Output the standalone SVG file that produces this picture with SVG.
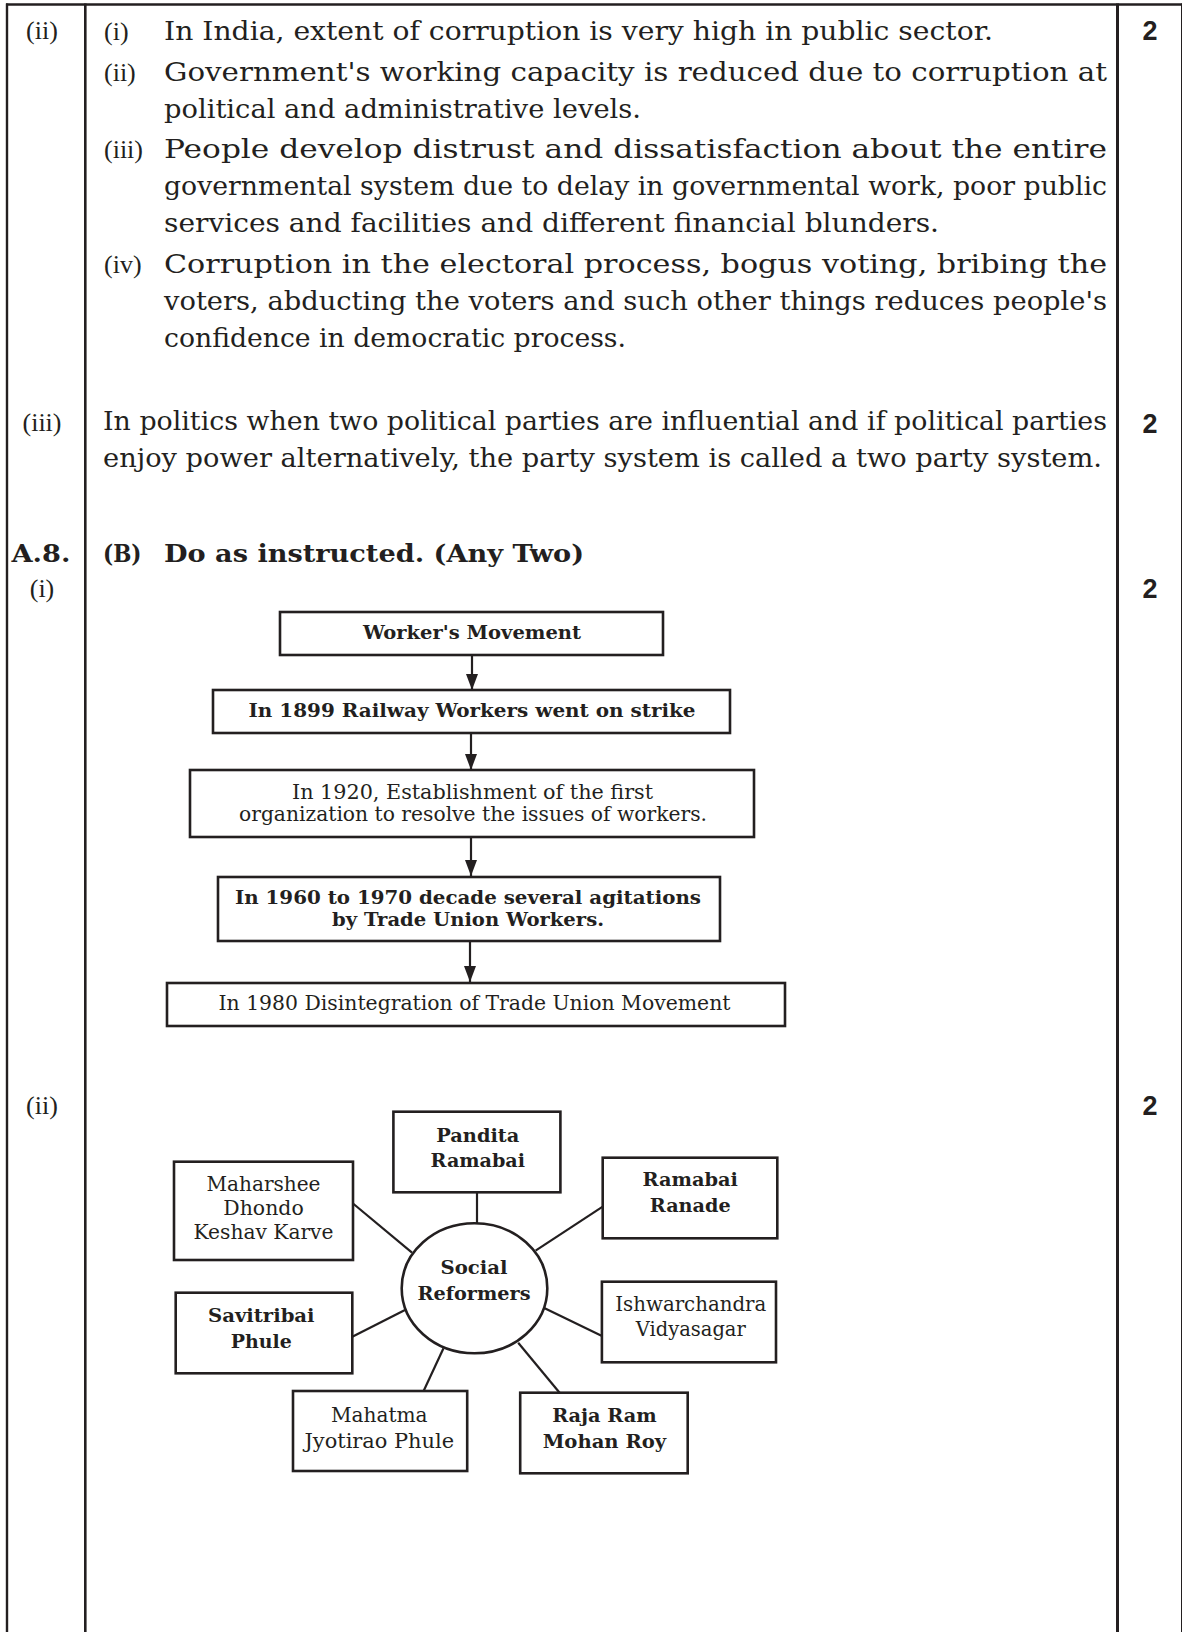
<svg xmlns="http://www.w3.org/2000/svg" width="1182" height="1632" viewBox="0 0 1182 1632">
<style>
.body{font-family:"DejaVu Serif","Liberation Serif",serif;font-size:26px;fill:#231f20}
.lbl{font-family:"Liberation Serif","DejaVu Serif",serif;font-size:26px;fill:#231f20}
.hb{font-family:"DejaVu Serif","Liberation Serif",serif;font-size:24px;font-weight:bold;fill:#231f20}
.mark{font-family:"Liberation Sans","DejaVu Sans",sans-serif;font-size:27px;font-weight:bold;fill:#231f20;text-anchor:middle}
.fb{font-family:"DejaVu Serif","Liberation Serif",serif;font-size:18.5px;font-weight:bold;fill:#231f20;text-anchor:middle}
.fr{font-family:"DejaVu Serif","Liberation Serif",serif;font-size:19.5px;fill:#231f20;text-anchor:middle}
.mb{font-family:"DejaVu Serif","Liberation Serif",serif;font-size:19px;font-weight:bold;fill:#231f20;text-anchor:middle}
.mr{font-family:"DejaVu Serif","Liberation Serif",serif;font-size:20px;fill:#231f20;text-anchor:middle}
.box{fill:#fff;stroke:#231f20;stroke-width:2.6}
.rule{stroke:#231f20;fill:none}
.conn{stroke:#231f20;stroke-width:2.2;fill:none}
</style>
<defs>
<marker id="ah" viewBox="0 0 16 12" refX="16" refY="6" markerWidth="16" markerHeight="12" markerUnits="userSpaceOnUse" orient="auto">
<path d="M0,0 L16,6 L0,12 Z" fill="#231f20"/>
</marker>
</defs>
<rect x="0" y="0" width="1182" height="1632" fill="#fff"/>

<g id="table">
<line class="rule" x1="6" y1="4.5" x2="1182" y2="4.5" stroke-width="2.6"/>
<line class="rule" x1="7" y1="3.5" x2="7" y2="1632" stroke-width="2.4"/>
<line class="rule" x1="85.3" y1="3.5" x2="85.3" y2="1632" stroke-width="2.6"/>
<line class="rule" x1="1117.5" y1="3.5" x2="1117.5" y2="1632" stroke-width="3"/>
<line class="rule" x1="1181.5" y1="3.5" x2="1181.5" y2="1632" stroke-width="1" stroke="#777"/>
</g>

<g id="left-labels">
<text class="lbl" x="42" y="39" text-anchor="middle">(ii)</text>
<text class="lbl" x="42" y="431" text-anchor="middle">(iii)</text>
<text class="hb" x="41" y="562" text-anchor="middle" textLength="59" lengthAdjust="spacingAndGlyphs">A.8.</text>
<text class="lbl" x="42" y="597" text-anchor="middle">(i)</text>
<text class="lbl" x="42" y="1114" text-anchor="middle">(ii)</text>
</g>

<g id="marks">
<text class="mark" x="1150" y="40">2</text>
<text class="mark" x="1150" y="433">2</text>
<text class="mark" x="1150" y="598">2</text>
<text class="mark" x="1150" y="1115">2</text>
</g>

<g id="answer-ii">
<text class="lbl" x="104" y="40">(i)</text>
<text class="body" x="164" y="40" textLength="829" lengthAdjust="spacingAndGlyphs">In India, extent of corruption is very high in public sector.</text>
<text class="lbl" x="104" y="80.5">(ii)</text>
<text class="body" x="164" y="80.5" textLength="943" lengthAdjust="spacingAndGlyphs">Government's working capacity is reduced due to corruption at</text>
<text class="body" x="164" y="117.5" textLength="477" lengthAdjust="spacingAndGlyphs">political and administrative levels.</text>
<text class="lbl" x="104" y="158">(iii)</text>
<text class="body" x="164" y="158" textLength="943" lengthAdjust="spacingAndGlyphs">People develop distrust and dissatisfaction about the entire</text>
<text class="body" x="164" y="195" textLength="943" lengthAdjust="spacingAndGlyphs">governmental system due to delay in governmental work, poor public</text>
<text class="body" x="164" y="232" textLength="775" lengthAdjust="spacingAndGlyphs">services and facilities and different financial blunders.</text>
<text class="lbl" x="104" y="272.5">(iv)</text>
<text class="body" x="164" y="272.5" textLength="943" lengthAdjust="spacingAndGlyphs">Corruption in the electoral process, bogus voting, bribing the</text>
<text class="body" x="164" y="309.5" textLength="943" lengthAdjust="spacingAndGlyphs">voters, abducting the voters and such other things reduces people's</text>
<text class="body" x="164" y="346.5" textLength="462" lengthAdjust="spacingAndGlyphs">confidence in democratic process.</text>
</g>

<g id="answer-iii">
<text class="body" x="103" y="430" textLength="1004" lengthAdjust="spacingAndGlyphs">In politics when two political parties are influential and if political parties</text>
<text class="body" x="103" y="466.5" textLength="999" lengthAdjust="spacingAndGlyphs">enjoy power alternatively, the party system is called a two party system.</text>
</g>

<g id="heading">
<text class="hb" x="103" y="562" textLength="38.5" lengthAdjust="spacingAndGlyphs">(B)</text>
<text class="hb" x="164" y="562" textLength="420" lengthAdjust="spacingAndGlyphs">Do as instructed. (Any Two)</text>
</g>

<g id="flow-connectors">
<line class="conn" x1="472" y1="655" x2="472" y2="690" marker-end="url(#ah)"/>
<line class="conn" x1="471" y1="733" x2="471" y2="770" marker-end="url(#ah)"/>
<line class="conn" x1="471" y1="838" x2="471" y2="876" marker-end="url(#ah)"/>
<line class="conn" x1="470" y1="942" x2="470" y2="982" marker-end="url(#ah)"/>
</g>

<g id="f1">
<rect class="box" x="280" y="612" width="383" height="43"/>
<text class="fb" x="472" y="638.5" textLength="218" lengthAdjust="spacingAndGlyphs">Worker's Movement</text>
</g>
<g id="f2">
<rect class="box" x="213" y="690" width="517" height="43"/>
<text class="fb" x="472" y="716.5" textLength="447" lengthAdjust="spacingAndGlyphs">In 1899 Railway Workers went on strike</text>
</g>
<g id="f3">
<rect class="box" x="190" y="770" width="564" height="67"/>
<text class="fr" x="472.5" y="798.5" textLength="361" lengthAdjust="spacingAndGlyphs">In 1920, Establishment of the first</text>
<text class="fr" x="473" y="821" textLength="468" lengthAdjust="spacingAndGlyphs">organization to resolve the issues of workers.</text>
</g>
<g id="f4">
<rect class="box" x="218" y="877" width="502" height="64"/>
<text class="fb" x="468" y="904" textLength="466" lengthAdjust="spacingAndGlyphs">In 1960 to 1970 decade several agitations</text>
<text class="fb" x="468" y="926" textLength="272" lengthAdjust="spacingAndGlyphs">by Trade Union Workers.</text>
</g>
<g id="f5">
<rect class="box" x="167" y="983" width="618" height="43"/>
<text class="fr" x="474.5" y="1010" textLength="512" lengthAdjust="spacingAndGlyphs">In 1980 Disintegration of Trade Union Movement</text>
</g>

<g id="mind-connectors">
<line class="conn" x1="477" y1="1192" x2="477" y2="1223.5"/>
<line class="conn" x1="353" y1="1203.5" x2="412" y2="1252.7"/>
<line class="conn" x1="602.7" y1="1206.7" x2="535.6" y2="1250.7"/>
<line class="conn" x1="352.3" y1="1336.7" x2="405" y2="1310"/>
<line class="conn" x1="544.7" y1="1308.3" x2="602" y2="1336"/>
<line class="conn" x1="443.5" y1="1348.3" x2="423.6" y2="1391"/>
<line class="conn" x1="518.2" y1="1342.7" x2="559.6" y2="1392.7"/>
</g>

<g id="m-center">
<ellipse class="box" cx="474.5" cy="1288.3" rx="72.8" ry="65"/>
<text class="mb" x="474" y="1273.5" textLength="67" lengthAdjust="spacingAndGlyphs">Social</text>
<text class="mb" x="474" y="1299.5" textLength="113" lengthAdjust="spacingAndGlyphs">Reformers</text>
</g>
<g id="m-pandita">
<rect class="box" x="393.4" y="1111.7" width="167" height="80.6"/>
<text class="mb" x="477.8" y="1141.7" textLength="83" lengthAdjust="spacingAndGlyphs">Pandita</text>
<text class="mb" x="477.8" y="1167.3" textLength="94.5" lengthAdjust="spacingAndGlyphs">Ramabai</text>
</g>
<g id="m-ranade">
<rect class="box" x="602.7" y="1157.7" width="174.6" height="80.6"/>
<text class="mb" x="690.2" y="1186" textLength="95.4" lengthAdjust="spacingAndGlyphs">Ramabai</text>
<text class="mb" x="690.2" y="1211.7" textLength="80.8" lengthAdjust="spacingAndGlyphs">Ranade</text>
</g>
<g id="m-karve">
<rect class="box" x="174" y="1161.7" width="179" height="98.3"/>
<text class="mr" x="263.5" y="1190.7" textLength="114" lengthAdjust="spacingAndGlyphs">Maharshee</text>
<text class="mr" x="263.5" y="1215" textLength="80.4" lengthAdjust="spacingAndGlyphs">Dhondo</text>
<text class="mr" x="263.5" y="1239.3" textLength="140" lengthAdjust="spacingAndGlyphs">Keshav Karve</text>
</g>
<g id="m-savitribai">
<rect class="box" x="175.7" y="1292.7" width="176.6" height="80.6"/>
<text class="mb" x="261.3" y="1321.7" textLength="106.5" lengthAdjust="spacingAndGlyphs">Savitribai</text>
<text class="mb" x="261.3" y="1348.3" textLength="61" lengthAdjust="spacingAndGlyphs">Phule</text>
</g>
<g id="m-vidyasagar">
<rect class="box" x="601.9" y="1281.7" width="174.1" height="80.6"/>
<text class="mr" x="690.8" y="1310.7" textLength="151" lengthAdjust="spacingAndGlyphs">Ishwarchandra</text>
<text class="mr" x="690.8" y="1336" textLength="110" lengthAdjust="spacingAndGlyphs">Vidyasagar</text>
</g>
<g id="m-jyotirao">
<rect class="box" x="293" y="1391" width="174.2" height="80"/>
<text class="mr" x="379.3" y="1421.7" textLength="96.6" lengthAdjust="spacingAndGlyphs">Mahatma</text>
<text class="mr" x="379.3" y="1447.7" textLength="149.7" lengthAdjust="spacingAndGlyphs">Jyotirao Phule</text>
</g>
<g id="m-roy">
<rect class="box" x="520.2" y="1392.7" width="167.5" height="80.6"/>
<text class="mb" x="604.4" y="1421.7" textLength="104.5" lengthAdjust="spacingAndGlyphs">Raja Ram</text>
<text class="mb" x="604.4" y="1447.7" textLength="123.5" lengthAdjust="spacingAndGlyphs">Mohan Roy</text>
</g>
</svg>
